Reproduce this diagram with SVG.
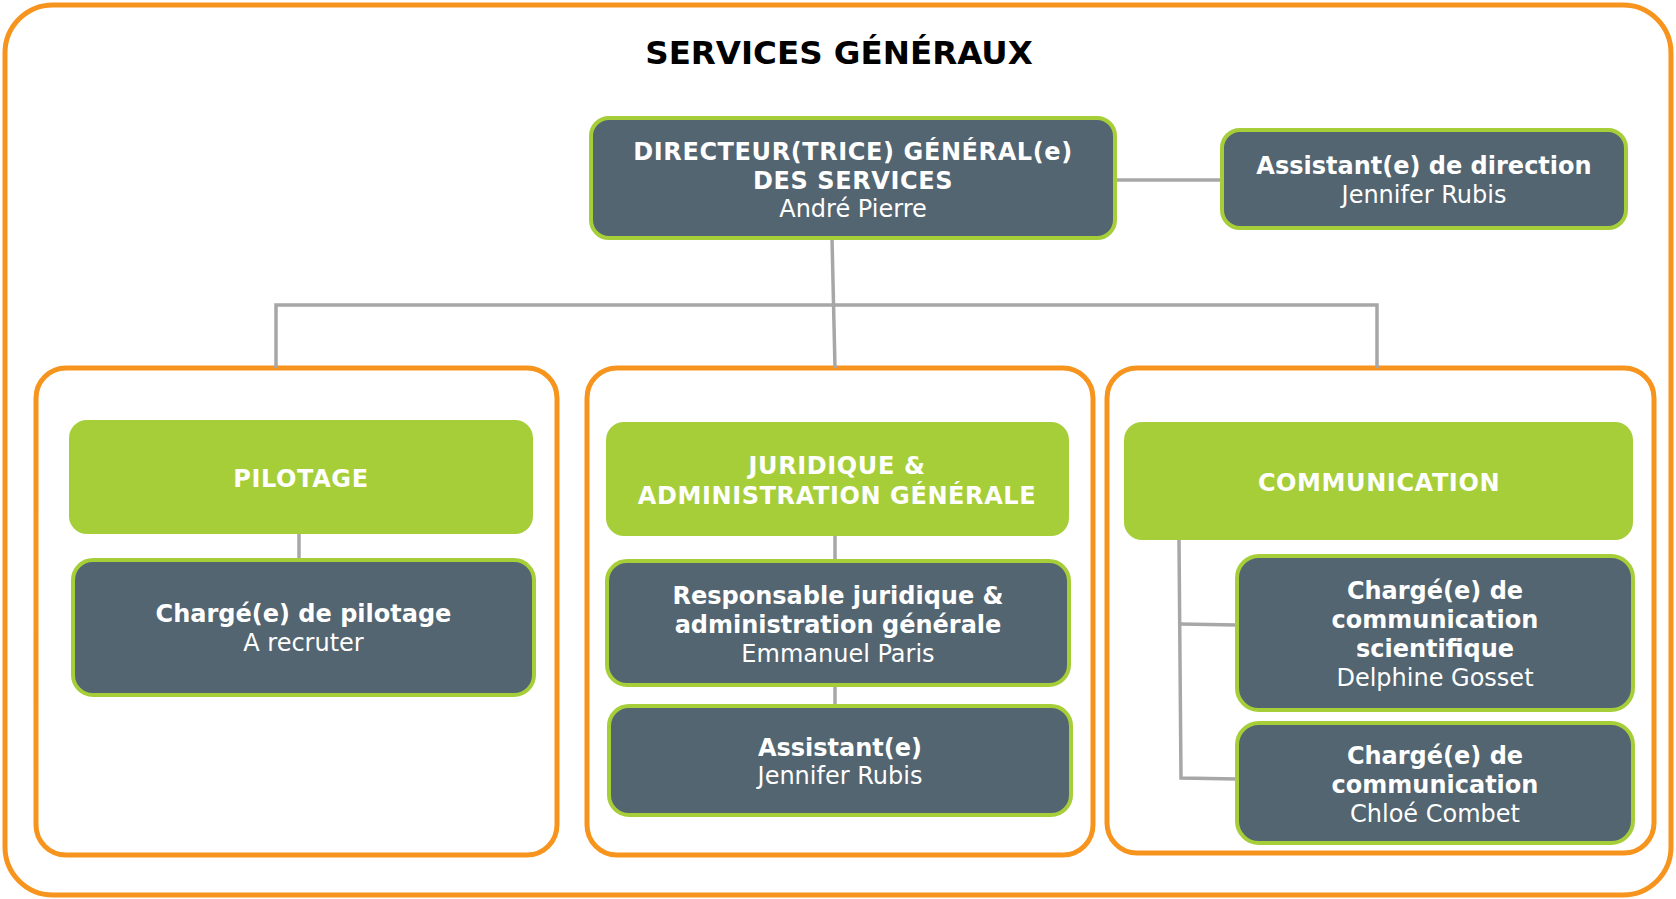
<svg xmlns="http://www.w3.org/2000/svg" width="1676" height="899" viewBox="0 0 1676 899">
<style>
.frame{fill:#FFFFFF;stroke:#F7941D;stroke-width:5}
.group{fill:#FFFFFF;stroke:#F7941D;stroke-width:5}
.head{fill:#A6CE39}
.node{fill:#536571;stroke:#A6CE39;stroke-width:4}
.conn{fill:none;stroke:#A7A7A7;stroke-width:3.5;stroke-linejoin:miter}
text{font-family:"DejaVu Sans","Liberation Sans",sans-serif;fill:#FFFFFF;text-anchor:middle}
.b{font-weight:bold;font-size:24px;letter-spacing:0.6px}
.m{font-weight:bold;font-size:24px;letter-spacing:0px}
.r{font-size:24px}
.title{font-weight:bold;font-size:32.5px;fill:#000000}
</style>
<rect class="frame" x="5" y="5" width="1666" height="890" rx="48"/>
<text class="title" x="839" y="64">SERVICES GÉNÉRAUX</text>

<g id="groups">
<rect id="group-pilotage" class="group" x="36" y="368" width="521" height="487" rx="30"/>
<rect id="group-juridique" class="group" x="587" y="368" width="506" height="487" rx="30"/>
<rect id="group-communication" class="group" x="1107" y="368" width="547" height="485" rx="30"/>
</g>

<g id="connectors">
<line class="conn" x1="1115" y1="180" x2="1222" y2="180"/>
<line class="conn" x1="832" y1="238" x2="835" y2="368"/>
<polyline class="conn" points="276,368 276,305 1377,305 1377,368"/>
<line class="conn" x1="299" y1="534" x2="299" y2="560"/>
<line class="conn" x1="835" y1="536" x2="835" y2="561"/>
<line class="conn" x1="835" y1="685" x2="835" y2="706"/>
<polyline class="conn" points="1179,540 1181,778 1237,779"/>
<line class="conn" x1="1180" y1="624" x2="1237" y2="625"/>
</g>

<g id="node-directeur">
<rect class="node" x="591" y="118" width="524" height="120" rx="18"/>
<text class="b" x="853" y="160">DIRECTEUR(TRICE) GÉNÉRAL(e)</text>
<text class="b" x="853" y="189">DES SERVICES</text>
<text class="r" x="853" y="217">André Pierre</text>
</g>

<g id="node-assistant-direction">
<rect class="node" x="1222" y="130" width="404" height="98" rx="18"/>
<text class="m" x="1424" y="174">Assistant(e) de direction</text>
<text class="r" x="1424" y="203">Jennifer Rubis</text>
</g>

<g id="node-pilotage">
<rect class="head" x="69" y="420" width="464" height="114" rx="18"/>
<text class="b" x="301" y="487">PILOTAGE</text>
</g>

<g id="node-charge-pilotage">
<rect class="node" x="73" y="560" width="461" height="135" rx="20"/>
<text class="m" x="303.5" y="622">Chargé(e) de pilotage</text>
<text class="r" x="303.5" y="651">A recruter</text>
</g>

<g id="node-juridique">
<rect class="head" x="606" y="422" width="463" height="114" rx="18"/>
<text class="b" x="837" y="474">JURIDIQUE &amp;</text>
<text class="b" x="837" y="504">ADMINISTRATION GÉNÉRALE</text>
</g>

<g id="node-responsable">
<rect class="node" x="607" y="561" width="462" height="124" rx="20"/>
<text class="m" x="838" y="604">Responsable juridique &amp;</text>
<text class="m" x="838" y="633">administration générale</text>
<text class="r" x="838" y="662">Emmanuel Paris</text>
</g>

<g id="node-assistant">
<rect class="node" x="609" y="706" width="462" height="109" rx="20"/>
<text class="m" x="840" y="756">Assistant(e)</text>
<text class="r" x="840" y="784">Jennifer Rubis</text>
</g>

<g id="node-communication">
<rect class="head" x="1124" y="422" width="509" height="118" rx="18"/>
<text class="b" x="1379" y="491">COMMUNICATION</text>
</g>

<g id="node-charge-com-sci">
<rect class="node" x="1237" y="556" width="396" height="154" rx="22"/>
<text class="m" x="1435" y="599">Chargé(e) de</text>
<text class="m" x="1435" y="628">communication</text>
<text class="m" x="1435" y="657">scientifique</text>
<text class="r" x="1435" y="686">Delphine Gosset</text>
</g>

<g id="node-charge-com">
<rect class="node" x="1237" y="723" width="396" height="120" rx="22"/>
<text class="m" x="1435" y="764">Chargé(e) de</text>
<text class="m" x="1435" y="793">communication</text>
<text class="r" x="1435" y="822">Chloé Combet</text>
</g>
</svg>
